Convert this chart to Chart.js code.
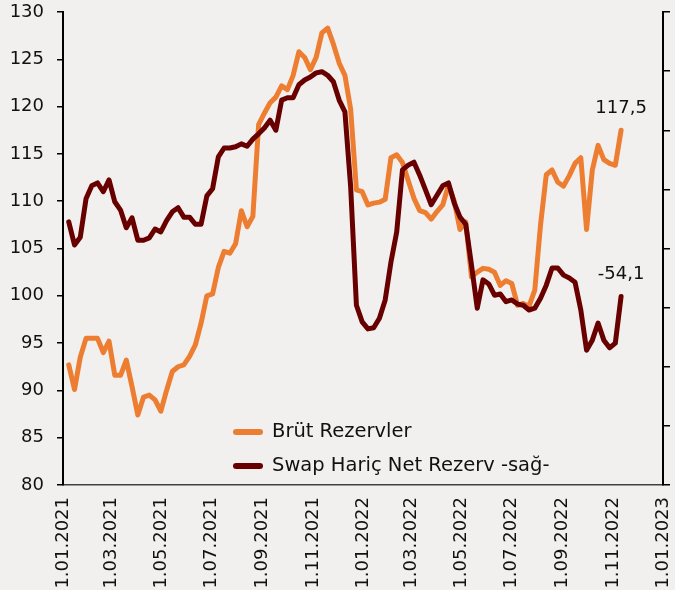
<!DOCTYPE html>
<html>
<head>
<meta charset="utf-8">
<script src="https://cdn.jsdelivr.net/npm/chart.js@4.4.1/dist/chart.umd.min.js"></script>
<style>
  html, body { margin: 0; padding: 0; background: #f2f0ef; }
  canvas { display: block; }
</style>
</head>
<body>
<canvas id="reserveChart" width="675" height="590"></canvas>
<script>
// weekly data points (Fridays)
const dates = [
  '2021-01-08','2021-01-15','2021-01-22','2021-01-29','2021-02-05','2021-02-12','2021-02-19','2021-02-26',
  '2021-03-05','2021-03-12','2021-03-19','2021-03-26','2021-04-02','2021-04-09','2021-04-16','2021-04-23',
  '2021-04-30','2021-05-07','2021-05-14','2021-05-21','2021-05-28','2021-06-04','2021-06-11','2021-06-18',
  '2021-06-25','2021-07-02','2021-07-09','2021-07-16','2021-07-23','2021-07-30','2021-08-06','2021-08-13',
  '2021-08-20','2021-08-27','2021-09-03','2021-09-10','2021-09-17','2021-09-24','2021-10-01','2021-10-08',
  '2021-10-15','2021-10-22','2021-10-29','2021-11-05','2021-11-12','2021-11-19','2021-11-26','2021-12-03',
  '2021-12-10','2021-12-17','2021-12-24','2021-12-31','2022-01-07','2022-01-14','2022-01-21','2022-01-28',
  '2022-02-04','2022-02-11','2022-02-18','2022-02-25','2022-03-04','2022-03-11','2022-03-18','2022-03-25',
  '2022-04-01','2022-04-08','2022-04-15','2022-04-22','2022-04-29','2022-05-06','2022-05-13','2022-05-20',
  '2022-05-27','2022-06-03','2022-06-10','2022-06-17','2022-06-24','2022-07-01','2022-07-08','2022-07-15',
  '2022-07-22','2022-07-29','2022-08-05','2022-08-12','2022-08-19','2022-08-26','2022-09-02','2022-09-09',
  '2022-09-16','2022-09-23','2022-09-30','2022-10-07','2022-10-14','2022-10-21','2022-10-28','2022-11-04',
  '2022-11-11'
];

// Brüt Rezervler (left axis)
const brutRezerv = [
  92.7, 90.1, 93.5, 95.5, 95.5, 95.5, 94.0, 95.2, 91.6, 91.6, 93.2, 90.4, 87.4, 89.3, 89.5, 89.0,
  87.8, 90.0, 92.0, 92.5, 92.7, 93.6, 94.8, 97.1, 100.0, 100.2, 103.0, 104.7, 104.5, 105.5, 109.0, 107.3,
  108.4, 118.1, 119.3, 120.4, 121.0, 122.2, 121.8, 123.3, 125.8, 125.2, 123.9, 125.2, 127.8, 128.3, 126.6, 124.6,
  123.3, 119.7, 111.2, 111.0, 109.6, 109.8, 109.9, 110.2, 114.6, 114.9, 114.1, 112.2, 110.3, 109.0, 108.8, 108.1,
  108.9, 109.6, 111.7, 110.0, 107.0, 107.8, 102.0, 102.5, 102.9, 102.8, 102.5, 101.1, 101.6, 101.3, 99.0, 99.2,
  98.9, 100.6, 107.5, 112.8, 113.3, 112.0, 111.6, 112.7, 114.0, 114.6, 107.0, 113.3, 115.9, 114.4, 114.0, 113.8,
  117.5
];

// Swap Hariç Net Rezerv (right axis)
const netRezerv = [
  -41.5, -45.4, -44.1, -37.6, -35.4, -34.9, -36.4, -34.4, -38.1, -39.5, -42.5, -40.8, -44.6, -44.6, -44.2, -42.7,
  -43.2, -41.3, -39.8, -39.1, -40.7, -40.7, -41.9, -41.9, -37.1, -35.9, -30.5, -29.0, -29.0, -28.8, -28.3, -28.7,
  -27.5, -26.6, -25.6, -24.3, -26.0, -20.9, -20.5, -20.5, -18.3, -17.5, -17.0, -16.3, -16.1, -16.7, -17.8, -20.9,
  -22.9, -35.6, -55.6, -58.4, -59.6, -59.4, -57.8, -54.7, -48.3, -43.2, -32.7, -31.9, -31.4, -33.6, -36.1, -38.6,
  -37.0, -35.4, -34.9, -38.3, -40.7, -41.9, -48.8, -56.1, -51.3, -52.0, -53.9, -53.7, -55.0, -54.7, -55.4, -55.6,
  -56.4, -56.1, -54.4, -52.2, -49.3, -49.3, -50.5, -51.0, -51.7, -56.4, -63.2, -61.5, -58.6, -61.5, -62.8, -62.0,
  -54.1
];

const xTickLabels = ['1.01.2021','1.03.2021','1.05.2021','1.07.2021','1.09.2021','1.11.2021','1.01.2022',
  '1.03.2022','1.05.2022','1.07.2022','1.09.2022','1.11.2022','1.01.2023'];
const leftTicks = [80, 85, 90, 95, 100, 105, 110, 115, 120, 125, 130];
const rightTicks = [-86, -76, -66, -56, -46, -36, -26, -16, -6];

const seriesNames = ['Brüt Rezervler', 'Swap Hariç Net Rezerv -sağ-'];
const seriesColors = ['#ed7d31', '#680000'];

const DAY = 86400000;
const origin = Date.UTC(2021, 0, 1);
function isoToDay(s) {
  const p = s.split('-').map(Number);
  return (Date.UTC(p[0], p[1] - 1, p[2]) - origin) / DAY;
}
function labelToDay(s) {
  const p = s.split('.').map(Number);
  return (Date.UTC(p[2], p[1] - 1, p[0]) - origin) / DAY;
}
const xTickValues = xTickLabels.map(labelToDay);

const FONT = 'DejaVu Sans';

// background colour
const bgPlugin = {
  id: 'bg',
  beforeDraw(chart) {
    const c = chart.ctx;
    c.save();
    c.fillStyle = '#f2f0ef';
    c.fillRect(0, 0, chart.width, chart.height);
    c.restore();
  }
};

// legend inside the plot + end labels
const extrasPlugin = {
  id: 'extras',
  afterDatasetsDraw(chart) {
    const c = chart.ctx;
    c.save();
    c.fillStyle = '#111';
    c.textBaseline = 'middle';

    // legend
    c.font = '19.5px "' + FONT + '"';
    const lx = 236, ly = [432, 466];
    seriesNames.forEach((name, i) => {
      c.strokeStyle = seriesColors[i];
      c.lineWidth = 6;
      c.lineCap = 'round';
      c.beginPath();
      c.moveTo(lx, ly[i]);
      c.lineTo(lx + 24, ly[i]);
      c.stroke();
      c.textAlign = 'left';
      c.fillText(name, lx + 36, ly[i]);
    });

    // last value labels
    c.font = '18px "' + FONT + '"';
    c.textAlign = 'center';
    chart.data.datasets.forEach((ds, i) => {
      const pts = chart.getDatasetMeta(i).data;
      const last = pts[pts.length - 1];
      const v = ds.data[ds.data.length - 1].y;
      c.fillText(v.toFixed(1).replace('.', ','), last.x, last.y - 22);
    });
    c.restore();
  }
};

// keep the plot box fixed
const noPad = s => { s.paddingTop = 0; s.paddingBottom = 0; };

new Chart(document.getElementById('reserveChart'), {
  type: 'line',
  data: {
    datasets: [
      {
        label: seriesNames[0],
        data: dates.map((d, i) => ({ x: isoToDay(d), y: brutRezerv[i] })),
        borderColor: seriesColors[0],
        borderWidth: 5,
        yAxisID: 'y',
        order: 2
      },
      {
        label: seriesNames[1],
        data: dates.map((d, i) => ({ x: isoToDay(d), y: netRezerv[i] })),
        borderColor: seriesColors[1],
        borderWidth: 5,
        yAxisID: 'y1',
        order: 1
      }
    ]
  },
  options: {
    responsive: false,
    animation: false,
    devicePixelRatio: 1,
    layout: { autoPadding: false, padding: { left: 0, right: 0, top: 12, bottom: 0 } },
    elements: {
      point: { radius: 0 },
      line: { tension: 0, borderJoinStyle: 'round', borderCapStyle: 'round' }
    },
    plugins: { legend: { display: false }, tooltip: { enabled: false } },
    scales: {
      x: {
        type: 'linear',
        min: 0,
        max: labelToDay('1.01.2023'),
        afterBuildTicks: s => { s.ticks = xTickValues.map(v => ({ value: v })); },
        afterFit: s => { s.height = 105; s.paddingLeft = 0; s.paddingRight = 0; },
        grid: { display: false, drawTicks: false },
        border: { display: true, color: '#404040', width: 1.5 },
        ticks: {
          autoSkip: false,
          minRotation: 90,
          maxRotation: 90,
          padding: 12,
          color: '#111',
          font: { family: FONT, size: 18 },
          callback: (v, i) => xTickLabels[i]
        }
      },
      y: {
        position: 'left',
        min: 80,
        max: 130,
        afterBuildTicks: s => { s.ticks = leftTicks.map(v => ({ value: v })); },
        afterFit: s => { s.width = 63; noPad(s); },
        grid: { drawOnChartArea: false, tickLength: 6, color: '#000', lineWidth: 1.5 },
        border: { display: true, color: '#000', width: 2 },
        ticks: { padding: 13, color: '#111', font: { family: FONT, size: 18 } }
      },
      y1: {
        position: 'right',
        min: -86,
        max: -6,
        afterBuildTicks: s => { s.ticks = rightTicks.map(v => ({ value: v })); },
        afterFit: s => { s.width = 12; noPad(s); },
        grid: { drawOnChartArea: false, tickLength: 7, color: '#000', lineWidth: 1.5 },
        border: { display: true, color: '#000', width: 2 },
        ticks: { display: false }
      }
    }
  },
  plugins: [bgPlugin, extrasPlugin]
});
</script>
</body>
</html>
